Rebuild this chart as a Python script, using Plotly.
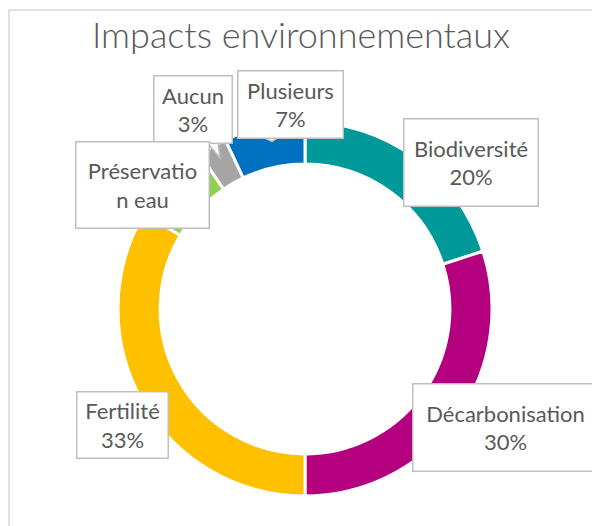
import plotly.graph_objects as go

W, H = 592, 526

# ---- data ----
categories = ["Biodiversité", "Décarbonisation", "Fertilité", "Préservation eau", "Aucun", "Plusieurs"]
values = [20, 30, 33.5, 7, 2.5, 7]
pct_labels = ["20%", "30%", "33%", "7%", "3%", "7%"]
colors = ["#009999", "#B4007F", "#FFC000", "#92D050", "#A5A5A5", "#0070C0"]
title_text = "Impacts environnementaux"

# label text as shown in the reference (Préservation eau box is clipped)
label_texts = []
for cat, pct in zip(categories, pct_labels):
    if cat == "Préservation eau":
        label_texts.append("Préservatio<br>n eau")
    else:
        label_texts.append(f"{cat}<br>{pct}")

# label box geometry in pixels: center x, center y, width, height
boxes = {
    "Biodiversité": (470.5, 162, 135, 88),
    "Décarbonisation": (505, 427, 186, 88),
    "Fertilité": (122, 424.5, 92, 67),
    "Aucun": (192.5, 109, 79, 68),
    "Préservation eau": (142, 184.5, 134, 87),
    "Plusieurs": (290, 104, 106, 68),
}


def px(x):
    return x / W


def py(y):
    return 1 - y / H


cx, cy, R = 305, 309, 187

fig = go.Figure(
    go.Pie(
        labels=categories,
        values=values,
        sort=False,
        direction="clockwise",
        rotation=0,
        hole=0.775,
        marker=dict(colors=colors, line=dict(color="white", width=3)),
        textinfo="none",
        hoverinfo="label+percent",
        showlegend=False,
        domain=dict(x=[px(cx - R), px(cx + R)], y=[py(cy + R), py(cy - R)]),
    )
)

font_family = "Lato, 'Open Sans', sans-serif"
text_color = "#595959"

annotations = []
# draw order: Aucun before Préservation eau so the latter overlaps
order = ["Biodiversité", "Décarbonisation", "Fertilité", "Aucun", "Préservation eau", "Plusieurs"]
for cat in order:
    i = categories.index(cat)
    bx, by, bw, bh = boxes[cat]
    annotations.append(
        dict(
            x=px(bx), y=py(by), xref="paper", yref="paper",
            xanchor="center", yanchor="middle",
            text=label_texts[i], showarrow=False,
            width=bw - 2, height=bh - 2,
            align="center", valign="middle",
            bgcolor="white", bordercolor="#BFBFBF", borderwidth=1.5, borderpad=0,
            font=dict(family=font_family, size=22, color=text_color),
        )
    )

annotations.append(
    dict(
        x=px(301), y=py(34), xref="paper", yref="paper",
        xanchor="center", yanchor="middle",
        text=title_text, showarrow=False,
        font=dict(family=font_family, size=36, color=text_color, weight=300),
    )
)

shapes = [
    # chart area border
    dict(type="rect", xref="paper", yref="paper",
         x0=px(9), x1=px(W + 20), y0=py(H + 20), y1=py(10),
         line=dict(color="#D9D9D9", width=1.5), fillcolor="rgba(0,0,0,0)", layer="below"),
]


# callout tails (Aucun, Plusieurs)
def tail(points):
    d = "M " + " L ".join(f"{px(a)},{py(b)}" for a, b in points)
    return dict(type="path", xref="paper", yref="paper", path=d,
                fillcolor="white", line=dict(color="#BFBFBF", width=1.5), layer="above")


shapes.append(tail([(207, 142.2), (220, 158), (218, 142.2)]))
shapes.append(tail([(263, 137.2), (272, 141.5), (279, 137.2)]))

fig.update_layout(
    width=W, height=H,
    margin=dict(l=0, r=0, t=0, b=0),
    paper_bgcolor="white", plot_bgcolor="white",
    annotations=annotations,
    shapes=shapes,
)

fig.write_html(
    "out.html",
    config={"displayModeBar": False},
    post_script="document.body.style.margin='0';document.body.style.padding='0';",
)
